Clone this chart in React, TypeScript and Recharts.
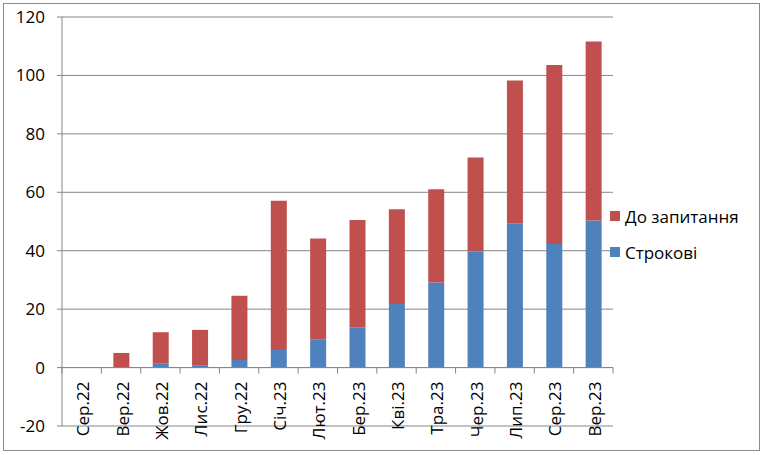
import React from "react";
import { Bar, BarChart, CartesianGrid, ReferenceLine, XAxis, YAxis } from "recharts";

const months = [
  "Сер.22", "Вер.22", "Жов.22", "Лис.22", "Гру.22", "Січ.23", "Лют.23",
  "Бер.23", "Кві.23", "Тра.23", "Чер.23", "Лип.23", "Сер.23", "Вер.23",
];
// Строкові (term deposits)
const termValues = [0, 0.1, 1.5, 0.8, 2.6, 6.0, 9.7, 13.8, 21.8, 29.1, 39.7, 49.4, 42.3, 50.3];
// До запитання (demand deposits)
const demandValues = [0, 4.9, 10.6, 12.1, 22.0, 51.1, 34.5, 36.7, 32.4, 31.9, 32.2, 48.9, 61.3, 61.3];
const yTicks = [-20, 0, 20, 40, 60, 80, 100, 120];

const data = months.map((m, i) => ({ month: m, term: termValues[i], demand: demandValues[i] }));

const W = 764;
const H = 455;
const X_AXIS_H = 29;
const M = { top: 17, right: 151, bottom: 0, left: 0 };
const Y_AXIS_W = 62;
const PLOT_W = W - M.left - M.right - Y_AXIS_W;
const PLOT_H = H - M.top - M.bottom - X_AXIS_H;
const ZERO_Y = M.top + (PLOT_H * 120) / 140;
const BAND = PLOT_W / months.length;

const GRID = "#868686";
const BLUE = "#4F81BD";
const RED = "#C0504D";
const FONT = "'Open Sans', sans-serif";

function MonthTick(props: any) {
  const { x, index, payload } = props;
  const last = index === months.length - 1;
  return (
    <g>
      <line x1={x - BAND / 2} x2={x - BAND / 2} y1={ZERO_Y} y2={ZERO_Y + 6} stroke={GRID} />
      {last && <line x1={x + BAND / 2} x2={x + BAND / 2} y1={ZERO_Y} y2={ZERO_Y + 6} stroke={GRID} />}
      <text
        transform={`translate(${x + 1},${ZERO_Y + 14}) rotate(-90)`}
        textAnchor="end"
        dominantBaseline="central"
        fontFamily={FONT}
        fontSize={17}
        fill="#000"
      >
        {payload.value}
      </text>
    </g>
  );
}

const legendItems = [
  { name: "До запитання", color: RED },
  { name: "Строкові", color: BLUE },
];

export default function App() {
  return (
    <div style={{ position: "fixed", left: 0, top: 0, width: W, height: H, background: "#fff" }}>
      <div
        style={{
          position: "absolute",
          left: 3,
          top: 3,
          width: 755,
          height: 446,
          border: "1.5px solid #8c8c8c",
        }}
      />
      <div style={{ position: "absolute", left: 0, top: 0 }}>
        <BarChart width={W} height={H} data={data} margin={M} barSize={16}>
          <CartesianGrid vertical={false} stroke={GRID} />
          <XAxis
            dataKey="month"
            axisLine={false}
            tickLine={false}
            height={X_AXIS_H}
            interval={0}
            tick={<MonthTick />}
          />
          <YAxis
            width={Y_AXIS_W}
            domain={[-20, 120]}
            ticks={yTicks}
            interval={0}
            axisLine={{ stroke: GRID }}
            tickLine={{ stroke: GRID }}
            tickSize={5}
            tickMargin={12}
            tick={{ fill: "#000", fontSize: 17, fontFamily: FONT }}
          />
          <Bar dataKey="term" name="Строкові" stackId="a" fill={BLUE} isAnimationActive={false} />
          <Bar dataKey="demand" name="До запитання" stackId="a" fill={RED} isAnimationActive={false} />
          <ReferenceLine y={0} stroke={GRID} />
        </BarChart>
      </div>
      <div style={{ position: "absolute", left: 610, top: 198, fontFamily: FONT, fontSize: 17 }}>
        {legendItems.map((it) => (
          <div key={it.name} style={{ display: "flex", alignItems: "center", height: 36 }}>
            <span style={{ width: 10, height: 10, background: it.color, marginRight: 5 }} />
            <span style={{ color: "#000" }}>{it.name}</span>
          </div>
        ))}
      </div>
    </div>
  );
}
